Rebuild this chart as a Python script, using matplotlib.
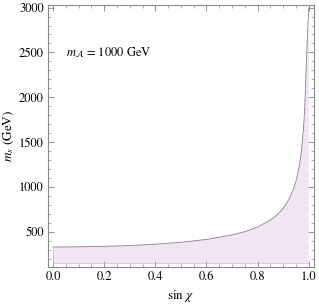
import numpy as np
import matplotlib
matplotlib.use("Agg")
import matplotlib.pyplot as plt
from matplotlib.ticker import MultipleLocator

plt.rcParams['font.family'] = ['STIXGeneral', 'DejaVu Serif']
plt.rcParams['mathtext.fontset'] = 'stix'

# values: allowed band in m_s vs sin(chi)
sin_chi = [0.0, 0.1, 0.2, 0.3, 0.4, 0.5, 0.6, 0.7, 0.75, 0.8, 0.85, 0.88, 0.9,
           0.92, 0.94, 0.95, 0.96, 0.97, 0.98, 0.985, 0.99, 0.995, 1.0]
ms_upper = [333, 335, 340, 349, 364, 385, 417, 467, 504, 556, 633, 700, 765,
            850, 978, 1067, 1190, 1370, 1675, 1935, 2360, 2700, 3000]
ms_lower = [156] * len(sin_chi)

fig = plt.figure(figsize=(3.19, 3.04), dpi=100)
ax = fig.add_axes([0.150, 0.122, 0.834, 0.862])

ax.fill_between(sin_chi, ms_lower, ms_upper, facecolor='#f1e5f3', edgecolor='none')
ax.plot(sin_chi, ms_upper, color='#8c7f91', lw=0.6)
ax.plot(sin_chi, ms_lower, color='#b9aabc', lw=0.4)
ax.plot([0, 0], [ms_lower[0], ms_upper[0]], color='#b9aabc', lw=0.4)

ax.set_xlim(-0.02, 1.02)
ax.set_ylim(111, 3030)

ax.xaxis.set_major_locator(MultipleLocator(0.2))
ax.xaxis.set_minor_locator(MultipleLocator(0.05))
ax.yaxis.set_major_locator(MultipleLocator(500))
ax.yaxis.set_minor_locator(MultipleLocator(100))
ax.set_yticks([500, 1000, 1500, 2000, 2500, 3000])
ax.set_xticks([0.0, 0.2, 0.4, 0.6, 0.8, 1.0])
ax.set_xticklabels(['0.0', '0.2', '0.4', '0.6', '0.8', '1.0'])

ax.tick_params(which='both', direction='in', top=True, right=True,
               color='#888888', labelsize=9, pad=3)
ax.tick_params(which='major', length=4, width=0.6)
ax.tick_params(which='minor', length=2, width=0.5)
for s in ax.spines.values():
    s.set_color('#888888')
    s.set_linewidth(0.8)

ax.set_xlabel(r'sin $\chi$', fontsize=9.5, labelpad=4)
ax.set_ylabel(r'$m_s$ (GeV)', fontsize=9.5, labelpad=2)
ax.text(0.05, 2500, r'$m_{\mathcal{A}}$ = 1000 GeV', fontsize=9, va='center', ha='left')

fig.savefig('out.png', dpi=100)
